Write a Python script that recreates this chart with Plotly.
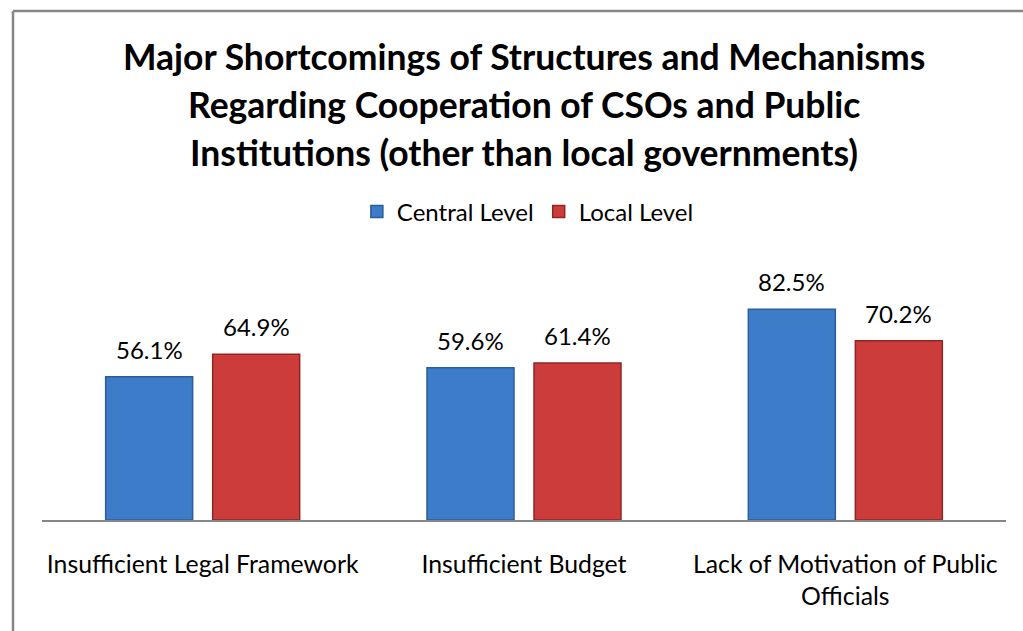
import plotly.graph_objects as go

# Survey shares (fraction of respondents) per shortcoming
categories = ["Insufficient Legal Framework", "Insufficient Budget",
              "Lack of Motivation of Public<br>Officials"]
central_level = [0.561, 0.596, 0.825]
local_level = [0.649, 0.614, 0.702]
series_names = ["Central Level", "Local Level"]

W, H = 1023, 631
FONT = "Lato"


def px_x(p):
    return p / W


def px_y(p):
    return 1 - p / H


fig = go.Figure()
fig.add_bar(x=categories, y=central_level, name=series_names[0],
            marker=dict(color="#3d7cc9", line=dict(color="#2b5d9c", width=1.5)))
fig.add_bar(x=categories, y=local_level, name=series_names[1],
            marker=dict(color="#cc3c3a", line=dict(color="#8f2624", width=1.5)))

# value labels above each bar, offset to the bar's slot in the group
slot_shift = 53.5
for i, cat in enumerate(categories):
    for vals, sh in ((central_level, -slot_shift), (local_level, slot_shift)):
        fig.add_annotation(x=cat, y=vals[i], text=f"{vals[i]*100:.1f}%",
                           xref="x", yref="y", showarrow=False,
                           xshift=sh, yanchor="bottom", yshift=11,
                           font=dict(family=FONT, size=24, color="#000000"))

title_lines = ["Major Shortcomings of Structures and Mechanisms",
               "Regarding Cooperation of CSOs and Public",
               "Institutions (other than local governments)"]
for j, line in enumerate(title_lines):
    fig.add_annotation(x=0.512, y=px_y(57 + 47.5 * j), xref="paper", yref="paper",
                       text=f"<b>{line}</b>", showarrow=False,
                       xanchor="center", yanchor="middle",
                       font=dict(family=FONT, size=35.5, color="#000000"))

# chart frame (top and left edges)
frame = dict(color="#878787", width=2.5)
fig.add_shape(type="line", xref="paper", yref="paper",
              x0=px_x(13), x1=1.02, y0=px_y(11), y1=px_y(11), line=frame)
fig.add_shape(type="line", xref="paper", yref="paper",
              x0=px_x(13), x1=px_x(13), y0=px_y(11), y1=-0.02, line=frame)

fig.update_layout(
    width=W, height=H,
    margin=dict(l=0, r=0, t=0, b=0),
    paper_bgcolor="white", plot_bgcolor="white",
    barmode="group", bargap=0.334, bargroupgap=0.187,
    font=dict(family=FONT, size=24, color="#000000"),
    showlegend=True,
    legend=dict(orientation="h", x=0.516, xanchor="center",
                y=px_y(212), yanchor="middle",
                font=dict(family=FONT, size=24), itemwidth=30,
                traceorder="normal", bgcolor="rgba(0,0,0,0)"),
    xaxis=dict(domain=[px_x(42), px_x(1006)], showline=True,
               linecolor="#868686", linewidth=2, ticks="",
               tickfont=dict(family=FONT, size=24.8), ticklabelstandoff=21,
               showgrid=False, zeroline=False, fixedrange=True),
    yaxis=dict(domain=[px_y(520), px_y(264.5)], range=[0, 1],
               visible=False, showgrid=False, zeroline=False, fixedrange=True),
)

fig.write_html("out.html")
